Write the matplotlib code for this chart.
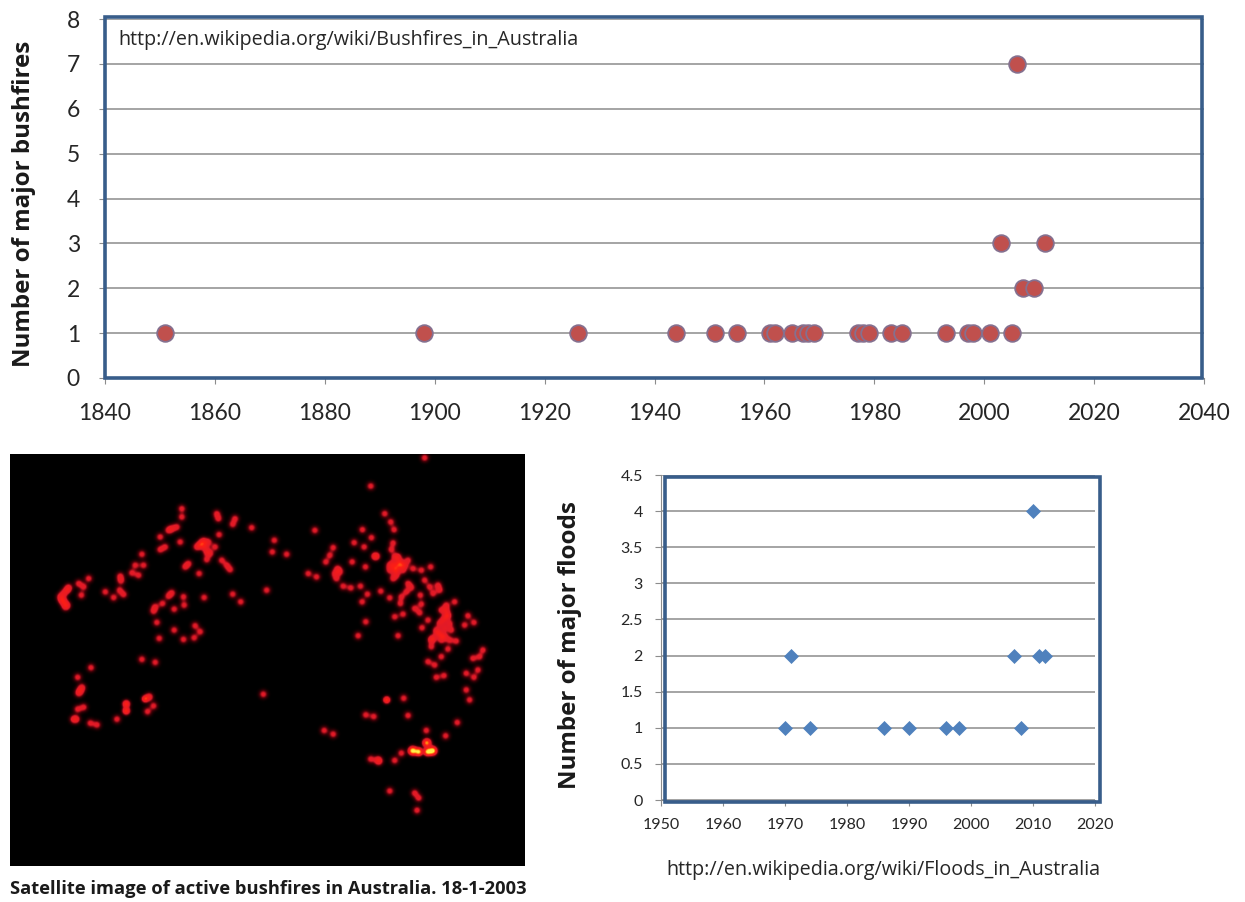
"""
Australian bushfires and floods: two scatter panels and a satellite hotspot map.
Run: python3 plot.py -> out.png
"""
import numpy as np
import matplotlib
matplotlib.use("Agg")
import matplotlib.pyplot as plt
from matplotlib.colors import LinearSegmentedColormap
from matplotlib.patches import Rectangle

W, H = 1245, 902

# bushfires per year
fire_years  = [1851, 1898, 1926, 1944, 1951, 1955, 1961, 1962, 1965, 1967, 1968, 1969,
               1977, 1978, 1979, 1983, 1985, 1993, 1997, 1998, 2001, 2005,
               2007, 2009, 2003, 2011, 2006]
fire_counts = [1, 1, 1, 1, 1, 1, 1, 1, 1, 1, 1, 1,
               1, 1, 1, 1, 1, 1, 1, 1, 1, 1,
               2, 2, 3, 3, 7]

# floods per year
flood_years  = [1970, 1974, 1986, 1990, 1996, 1998, 2008, 1971, 2007, 2011, 2012, 2010]
flood_counts = [1, 1, 1, 1, 1, 1, 1, 2, 2, 2, 2, 4]

fire_xticks  = list(range(1840, 2041, 20))
fire_yticks  = list(range(0, 9))
flood_xticks = list(range(1950, 2021, 10))
flood_yticks = [0, 0.5, 1, 1.5, 2, 2.5, 3, 3.5, 4, 4.5]
flood_ylabels = ["0", "0.5", "1", "1.5", "2", "2.5", "3", "3.5", "4", "4.5"]

# hotspots on the satellite image, read in reference pixels x3 (west half, from x=0, y=450)
west_x = [545, 545, 650, 655, 705, 698, 755, 515, 530, 505, 480, 657, 540, 495, 480, 605, 625, 590, 645, 620,
          630, 620, 665, 680, 690, 555, 565, 597, 425, 430, 405, 395, 415, 360, 362, 265, 235, 250, 205, 190,
          185, 195, 243, 315, 340, 358, 370, 800, 515, 505, 550, 552, 612, 698, 722, 487, 465, 460, 522, 470,
          522, 585, 600, 582, 550, 477, 425, 465, 272, 232, 245, 235, 250, 232, 220, 270, 290, 350, 460, 442, 790,
          200, 180, 200, 190, 610, 600, 615, 240, 228]
west_y = [175, 200, 190, 205, 205, 222, 232, 235, 230, 240, 260, 253, 275, 290, 298, 280, 275, 290, 290, 305,
          310, 328, 330, 345, 358, 350, 340, 370, 312, 345, 345, 368, 375, 378, 392, 385, 400, 410, 412, 430,
          450, 470, 435, 425, 442, 420, 433, 420, 428, 438, 440, 465, 442, 432, 455, 460, 470, 483, 477, 517,
          540, 527, 545, 563, 568, 565, 628, 637, 653, 682, 712, 730, 772, 778, 808, 820, 825, 808, 768, 785, 733,
          420, 440, 465, 455, 272, 285, 290, 722, 808]

# east half, same scale, from x=265, y=450
east_x = [480, 318, 360, 378, 388, 293, 150, 320, 268, 298, 28, 22, 65, 205, 195, 183, 385, 380, 330, 262,
          302, 400, 385, 410, 430, 375, 395, 415, 445, 470, 498, 385, 130, 155, 218, 210, 225, 215, 235, 258,
          287, 308, 348, 375, 292, 430, 440, 425, 410, 407, 480, 495, 520, 505, 525, 467, 470, 450, 465, 545,
          530, 570, 610, 628, 600, 490, 472, 545, 555, 540, 520, 505, 530, 575, 415, 390, 303, 280, 400, 500,
          550, 655, 645, 625, 640, 530, 490, 510, 605, 628, 515, 538, 605, 615, 417, 303, 327, 430, 578, 485,
          543, 178, 205, 488, 410, 390, 318, 342, 375, 450, 462, 457,
          390, 405, 375, 395, 420, 400, 390, 545, 535, 550, 560, 530, 515, 500, 540, 555, 525, 335, 340]
east_y = [22, 107, 190, 215, 238, 238, 240, 262, 277, 290, 270, 305, 312, 292, 315, 335, 278, 298, 318, 335,
          350, 320, 340, 345, 330, 360, 360, 360, 355, 360, 350, 385, 370, 380, 355, 370, 365, 385, 408, 413,
          408, 432, 423, 443, 455, 400, 412, 425, 440, 460, 390, 410, 405, 430, 420, 435, 462, 475, 488, 465,
          480, 455, 497, 517, 525, 510, 533, 500, 520, 535, 550, 565, 570, 573, 492, 500, 515, 557, 557, 590,
          597, 600, 620, 625, 660, 620, 635, 645, 670, 682, 682, 677, 720, 750, 745, 795, 800, 797, 818, 842,
          858, 842, 853, 880, 910, 932, 928, 935, 1024, 1030, 1045, 1082,
          320, 335, 345, 375, 345, 345, 355, 480, 510, 495, 540, 555, 540, 570, 560, 570, 520, 318, 930]

# brighter spots, in plain reference pixels
hot_x = [126, 126, 145, 149, 387, 413, 419, 428, 433, 427]
hot_y = [704, 711, 699, 697, 700, 751, 752, 752, 751, 743]
hot_level = [2.2, 2.2, 2.2, 1.4, 2.4, 4.2, 3.8, 3.8, 4.2, 2.2]
hot_spread = [2.4, 2.4, 2.2, 2.6, 2.2, 2.6, 2.4, 2.4, 2.6, 2.6]


def rect(left, top, right, bottom):
    return [left / W, 1 - bottom / H, (right - left) / W, (bottom - top) / H]


def scatter_panel(pos, box, xs, ys, xticks, yticks, ylabels, tick_size, xpad, ypad, marker_kw):
    ax = fig.add_axes(rect(*pos))
    ax.set_xlim(xticks[0], xticks[-1])
    ax.set_ylim(yticks[0], yticks[-1])
    ax.set_xticks(xticks)
    ax.set_yticks(yticks)
    ax.set_yticklabels(ylabels)
    ax.grid(axis="y", color="#8c8c8c", lw=1.1)
    ax.set_axisbelow(True)
    for side in ("top", "right"):
        ax.spines[side].set_visible(False)
    for side in ("left", "bottom"):
        ax.spines[side].set_color("#8c8c8c")
        ax.spines[side].set_linewidth(0.8)
    ax.tick_params(length=4, width=0.8, color="#8c8c8c", labelsize=tick_size, labelcolor="#262626")
    ax.tick_params(axis="x", pad=xpad)
    ax.tick_params(axis="y", pad=ypad)
    ax.plot(xs, ys, ls="none", clip_on=False, zorder=3, **marker_kw)
    # the blue frame sits on top of the chart, slightly off its axes
    l, t, r, b = box
    fig.add_artist(Rectangle((l / W, 1 - b / H), (r - l) / W, (b - t) / H, fill=False,
                             ec="#385d8a", lw=2.6, transform=fig.transFigure, zorder=2))
    return ax


plt.rcParams["font.family"] = ["Lato", "DejaVu Sans"]
fig = plt.figure(figsize=(W / 100, H / 100), dpi=100, facecolor="white")

# bushfires
scatter_panel((105, 19, 1204, 378), (105, 17, 1202, 378), fire_years, fire_counts,
              fire_xticks, fire_yticks, [str(v) for v in fire_yticks], 16.5, 14, 14,
              dict(marker="o", ms=12, mfc="#c0504d", mec="#85708f", mew=1.3))
fig.text(118 / W, 1 - 40 / H, "http://en.wikipedia.org/wiki/Bushfires_in_Australia",
         fontsize=14.2, family="Open Sans", color="#262626", va="center", ha="left")
fig.text(24 / W, 1 - 204 / H, "Number of major bushfires", rotation=90, fontsize=17.4,
         family="Open Sans", fontweight="bold", color="#1a1a1a", va="center", ha="center")

# floods
scatter_panel((661, 475, 1095, 800), (665, 477, 1100, 802), flood_years, flood_counts,
              flood_xticks, flood_yticks, flood_ylabels, 11.5, 9, 9,
              dict(marker="D", ms=7.2, mfc="#4f81bd", mec="#4f81bd", mew=0.5))
fig.text(883 / W, 1 - 870 / H, "http://en.wikipedia.org/wiki/Floods_in_Australia",
         fontsize=14.2, family="Open Sans", color="#262626", va="center", ha="center")
fig.text(570 / W, 1 - 645 / H, "Number of major floods", rotation=90, fontsize=17.4,
         family="Open Sans", fontweight="bold", color="#1a1a1a", va="center", ha="center")

# satellite image: glow built from the hotspot positions
px = np.concatenate([np.array(west_x) / 3, 265 + np.array(east_x) / 3, hot_x])
py = np.concatenate([450 + np.array(west_y) / 3, 450 + np.array(east_y) / 3, hot_y])
level = np.concatenate([np.ones(len(west_x) + len(east_x)), hot_level])
spread = np.concatenate([np.full(len(west_x) + len(east_x), 2.7), hot_spread])

gx, gy = np.meshgrid(np.arange(10, 525.5, 1.0), np.arange(454, 866.5, 1.0))
glow = np.zeros_like(gx)
for x0, y0, a, s in zip(px, py, level, spread):
    glow += a * np.exp(-((gx - x0) ** 2 + (gy - y0) ** 2) / (2 * s ** 2))

fire_cmap = LinearSegmentedColormap.from_list(
    "fire", [(0, "#000000"), (0.1, "#4a0008"), (0.22, "#e01a28"), (0.6, "#ff1e14"),
             (0.8, "#ff8a10"), (1, "#fff04a")])

ax_img = fig.add_axes(rect(10, 454, 525, 866))
ax_img.imshow(glow, cmap=fire_cmap, vmin=0, vmax=3.8, extent=(10, 525, 866, 454),
              aspect="auto", interpolation="bilinear")
ax_img.axis("off")
fig.text(10 / W, 1 - 889 / H, "Satellite image of active bushfires in Australia. 18-1-2003",
         fontsize=13.2, family="Open Sans", fontweight="bold", color="#1a1a1a", va="center", ha="left")

fig.savefig("out.png", dpi=100)
